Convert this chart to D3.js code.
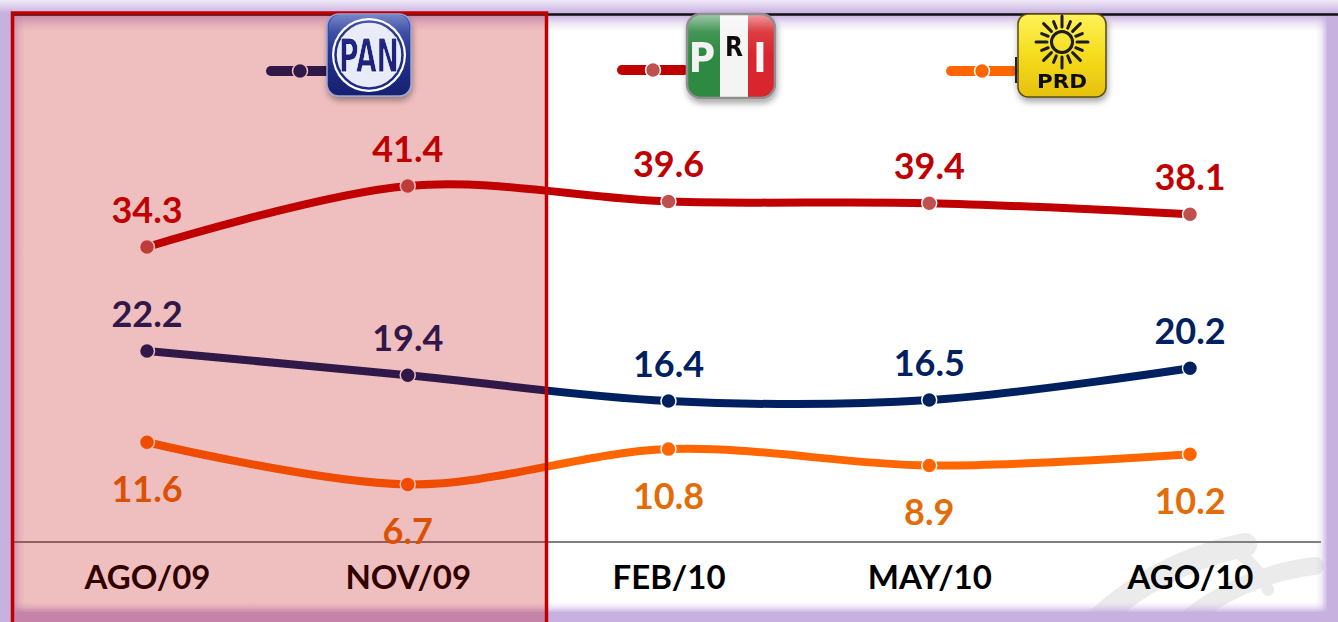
<!DOCTYPE html>
<html>
<head>
<meta charset="utf-8">
<script src="https://cdn.jsdelivr.net/npm/d3@7"></script>
<style>
  html, body { margin: 0; padding: 0; background: #fff; }
  svg { display: block; }
</style>
</head>
<body>
<svg id="chart" width="1338" height="622"></svg>
<script>
// ---------- DATA ----------
const categories = ["AGO/09", "NOV/09", "FEB/10", "MAY/10", "AGO/10"];
const priValues = [34.3, 41.4, 39.6, 39.4, 38.1];
const panValues = [22.2, 19.4, 16.4, 16.5, 20.2];
const prdValues = [11.6, 6.7, 10.8, 8.9, 10.2];
const seriesNames = ["PRI", "PAN", "PRD"];

// ---------- STYLE ----------
const W = 1338, H = 622;
const styles = {
  PRI: { line: "#c00000", marker: "#c0504d", label: "#c00000", labelPos: "above" },
  PAN: { line: "#002060", marker: "#002060", label: "#002060", labelPos: "above" },
  PRD: { line: "#ff6600", marker: "#ff6600", label: "#e36c09", labelPos: "below" }
};
const seriesData = { PRI: priValues, PAN: panValues, PRD: prdValues };
const FONT = "Lato, 'Open Sans', sans-serif";

const svg = d3.select("#chart");
const defs = svg.append("defs");

const lav = "#c7b1df";
function lg(id, x1, y1, x2, y2, stops) {
  const g = defs.append("linearGradient").attr("id", id)
    .attr("x1", x1).attr("y1", y1).attr("x2", x2).attr("y2", y2);
  stops.forEach(s => g.append("stop").attr("offset", s[0]).attr("stop-color", s[1]).attr("stop-opacity", s[2] === undefined ? 1 : s[2]));
}
lg("gTopOuter", 0, 0, 0, 1, [[0, "#efe9f7"], [1, "#c6aee0"]]);
lg("gTop", 0, 0, 0, 1, [[0, lav, 0.95], [0.5, lav, 0.35], [1, lav, 0]]);
lg("gBot", 0, 0, 0, 1, [[0, lav, 0], [0.5, lav, 0.3], [1, lav, 0.9]]);
lg("gLeft", 0, 0, 1, 0, [[0, lav, 0.9], [0.5, lav, 0.3], [1, lav, 0]]);
lg("gRight", 0, 0, 1, 0, [[0, lav, 0], [0.5, lav, 0.25], [1, lav, 0.9]]);
lg("gPan", 0, 0, 0, 1, [[0, "#4257b0"], [0.5, "#24338f"], [1, "#17206e"]]);
lg("gPrd", 0, 0, 0, 1, [[0, "#fff25a"], [0.5, "#f5dc1c"], [1, "#e6c00e"]]);
lg("gGloss", 0, 0, 0, 1, [[0, "#ffffff", 0.55], [0.45, "#ffffff", 0.1], [1, "#ffffff", 0]]);

const shadow = defs.append("filter").attr("id", "shadow")
  .attr("x", "-20%").attr("y", "-20%").attr("width", "140%").attr("height", "150%");
shadow.append("feDropShadow").attr("dx", 1).attr("dy", 4).attr("stdDeviation", 3)
  .attr("flood-color", "#000").attr("flood-opacity", 0.35);

defs.append("clipPath").attr("id", "panelClip")
  .append("rect").attr("x", 12).attr("y", 15).attr("width", 1315).attr("height", 597);

// ---------- FRAME ----------
svg.append("rect").attr("x", 0).attr("y", 0).attr("width", W).attr("height", H).attr("fill", lav);
svg.append("rect").attr("x", 0).attr("y", 0).attr("width", W).attr("height", 14).attr("fill", "url(#gTopOuter)");
svg.append("rect").attr("x", 12).attr("y", 15).attr("width", 1315).attr("height", 597).attr("fill", "#fff");

// watermark swooshes (inside panel)
const wm = svg.append("g").attr("clip-path", "url(#panelClip)")
  .attr("fill", "none").attr("stroke", "#ebebeb").attr("stroke-linecap", "round");
wm.append("path").attr("d", "M1070,650 C1110,600 1170,560 1245,545").attr("stroke-width", 24);
wm.append("path").attr("d", "M1180,625 C1215,595 1262,572 1315,566").attr("stroke-width", 18);
wm.append("path").attr("d", "M1232,548 C1250,560 1262,574 1268,590").attr("stroke-width", 12);

svg.append("rect").attr("x", 12).attr("y", 15).attr("width", 1315).attr("height", 16).attr("fill", "url(#gTop)");
svg.append("rect").attr("x", 12).attr("y", 15).attr("width", 13).attr("height", 597).attr("fill", "url(#gLeft)");
svg.append("rect").attr("x", 1316).attr("y", 15).attr("width", 11).attr("height", 597).attr("fill", "url(#gRight)");
svg.append("rect").attr("x", 12).attr("y", 602).attr("width", 1315).attr("height", 10).attr("fill", "url(#gBot)");
svg.append("line").attr("x1", 12).attr("x2", W).attr("y1", 14.5).attr("y2", 14.5)
  .attr("stroke", "#111").attr("stroke-width", 2.5);

// ---------- SCALES ----------
const x = d3.scalePoint().domain(categories).range([147, 1190]);
const y = d3.scaleLinear().domain([0, 50]).range([542, 112]);

// axis (baseline at 0)
const xAxis = d3.axisBottom(x).tickSize(0).tickPadding(44);
const axisG = svg.append("g").attr("transform", `translate(0,${y(0)})`).call(xAxis);
axisG.select(".domain").remove();
axisG.append("line").attr("x1", 12).attr("x2", 1321).attr("y1", 0).attr("y2", 0)
  .attr("stroke", "#808080").attr("stroke-width", 2);
axisG.selectAll(".tick text")
  .attr("font-family", FONT).attr("font-weight", 700).attr("font-size", 33)
  .attr("fill", "#000").attr("dy", "0.1em");

// ---------- LINES ----------
const lineGen = d3.line()
  .x((d, i) => x(categories[i]))
  .y(d => y(d))
  .curve(d3.curveCardinal.tension(0));

const plot = svg.append("g");
seriesNames.forEach(name => {
  const vals = seriesData[name];
  const st = styles[name];
  plot.append("path").datum(vals).attr("d", lineGen)
    .attr("fill", "none").attr("stroke", st.line).attr("stroke-width", 8)
    .attr("stroke-linecap", "butt");
  plot.selectAll(null).data(vals).enter().append("circle")
    .attr("cx", (d, i) => x(categories[i])).attr("cy", d => y(d)).attr("r", 7.5)
    .attr("fill", st.marker).attr("stroke", "#fff").attr("stroke-width", 1.5);
  plot.selectAll(null).data(vals).enter().append("text")
    .attr("x", (d, i) => x(categories[i]))
    .attr("y", d => st.labelPos === "above" ? y(d) - 24 : y(d) + 60)
    .attr("text-anchor", "middle")
    .attr("font-family", FONT).attr("font-weight", 700).attr("font-size", 36)
    .attr("fill", st.label)
    .text(d => d.toFixed(1));
});

// ---------- LEGEND LINES ----------
const legend = [
  { name: "PAN", x1: 271, x2: 328, cy: 71, mx: 300 },
  { name: "PRI", x1: 622, x2: 684, cy: 70, mx: 653 },
  { name: "PRD", x1: 951, x2: 1013, cy: 71, mx: 982 }
];
const legG = svg.append("g");
legend.forEach(l => {
  const st = styles[l.name];
  legG.append("line").attr("x1", l.x1).attr("x2", l.x2).attr("y1", l.cy).attr("y2", l.cy)
    .attr("stroke", st.line).attr("stroke-width", 10).attr("stroke-linecap", "round");
  legG.append("circle").attr("cx", l.mx).attr("cy", l.cy).attr("r", 7.5)
    .attr("fill", st.marker).attr("stroke", "#fff").attr("stroke-width", 1.5);
});

// ---------- HIGHLIGHT OVERLAY ----------
const hx0 = 12.5, hx1 = 546.5;
svg.append("rect").attr("x", hx0).attr("y", 13).attr("width", hx1 - hx0).attr("height", 620)
  .attr("fill", "rgba(192,0,0,0.25)").attr("stroke", "#c00000").attr("stroke-width", 3.5);

// ---------- LOGOS ----------
const condFont = "'Liberation Sans Narrow', 'DejaVu Sans Condensed', sans-serif";
// PAN
const pan = svg.append("g").attr("filter", "url(#shadow)");
pan.append("rect").attr("x", 327).attr("y", 14).attr("width", 84).attr("height", 82).attr("rx", 12)
  .attr("fill", "url(#gPan)").attr("stroke", "#9aa3d6").attr("stroke-width", 1.5);
pan.append("circle").attr("cx", 369).attr("cy", 55).attr("r", 37).attr("fill", "#fff");
pan.append("circle").attr("cx", 369).attr("cy", 55).attr("r", 33.5).attr("fill", "#e8ebf8")
  .attr("stroke", "#1f2c88").attr("stroke-width", 2.5);
pan.append("text").attr("x", 369).attr("y", 72).attr("text-anchor", "middle")
  .attr("font-family", condFont)
  .attr("font-weight", 700).attr("font-size", 46).attr("fill", "#1a237e")
  .attr("stroke", "#fff").attr("stroke-width", 0.8)
  .attr("textLength", 60).attr("lengthAdjust", "spacingAndGlyphs").text("PAN");
pan.append("rect").attr("x", 329).attr("y", 15).attr("width", 80).attr("height", 38).attr("rx", 11)
  .attr("fill", "url(#gGloss)").attr("opacity", 0.5);

// PRI
const pri = svg.append("g").attr("filter", "url(#shadow)");
const priClip = defs.append("clipPath").attr("id", "priClip");
priClip.append("rect").attr("x", 687).attr("y", 14).attr("width", 88).attr("height", 84).attr("rx", 14);
const priBands = pri.append("g").attr("clip-path", "url(#priClip)");
priBands.append("rect").attr("x", 687).attr("y", 14).attr("width", 33).attr("height", 84).attr("fill", "#2f8a42");
priBands.append("rect").attr("x", 720).attr("y", 14).attr("width", 28).attr("height", 84).attr("fill", "#f4f4f4");
priBands.append("rect").attr("x", 748).attr("y", 14).attr("width", 27).attr("height", 84).attr("fill", "#d9272e");
priBands.append("rect").attr("x", 687).attr("y", 14).attr("width", 88).attr("height", 40).attr("fill", "url(#gGloss)");
pri.append("rect").attr("x", 687).attr("y", 14).attr("width", 88).attr("height", 84).attr("rx", 14)
  .attr("fill", "none").attr("stroke", "#8f8f8f").attr("stroke-width", 2.5);
pri.append("text").attr("x", 702).attr("y", 72).attr("text-anchor", "middle").attr("font-family", condFont)
  .attr("font-weight", 700).attr("font-size", 40).attr("fill", "#f2f2f2").text("P");
pri.append("text").attr("x", 734).attr("y", 56).attr("text-anchor", "middle").attr("font-family", condFont)
  .attr("font-weight", 700).attr("font-size", 26).attr("fill", "#111").text("R");
pri.append("text").attr("x", 760).attr("y", 72).attr("text-anchor", "middle").attr("font-family", condFont)
  .attr("font-weight", 700).attr("font-size", 40).attr("fill", "#f7f7f7").text("I");

// PRD
const prd = svg.append("g").attr("filter", "url(#shadow)");
prd.append("line").attr("x1", 1016).attr("x2", 1016).attr("y1", 57).attr("y2", 83).attr("stroke", "#222").attr("stroke-width", 2);
prd.append("rect").attr("x", 1018).attr("y", 14).attr("width", 88).attr("height", 83).attr("rx", 10)
  .attr("fill", "url(#gPrd)").attr("stroke", "#5a4a10").attr("stroke-width", 1.5);
const sun = prd.append("g").attr("transform", "translate(1062,42)");
sun.append("circle").attr("r", 10.5).attr("fill", "none").attr("stroke", "#1a1a1a").attr("stroke-width", 3);
d3.range(16).forEach(k => {
  const a = k / 16 * 2 * Math.PI;
  const r1 = 15, r2 = k % 2 === 0 ? 26 : 22;
  sun.append("line").attr("x1", r1 * Math.cos(a)).attr("y1", r1 * Math.sin(a))
    .attr("x2", r2 * Math.cos(a)).attr("y2", r2 * Math.sin(a))
    .attr("stroke", "#1a1a1a").attr("stroke-width", 3).attr("stroke-linecap", "round");
});
prd.append("text").attr("x", 1062).attr("y", 88).attr("text-anchor", "middle")
  .attr("font-family", "'DejaVu Sans', sans-serif").attr("font-weight", 700).attr("font-size", 19)
  .attr("fill", "#111").attr("textLength", 50).attr("lengthAdjust", "spacingAndGlyphs").text("PRD");
</script>
</body>
</html>
